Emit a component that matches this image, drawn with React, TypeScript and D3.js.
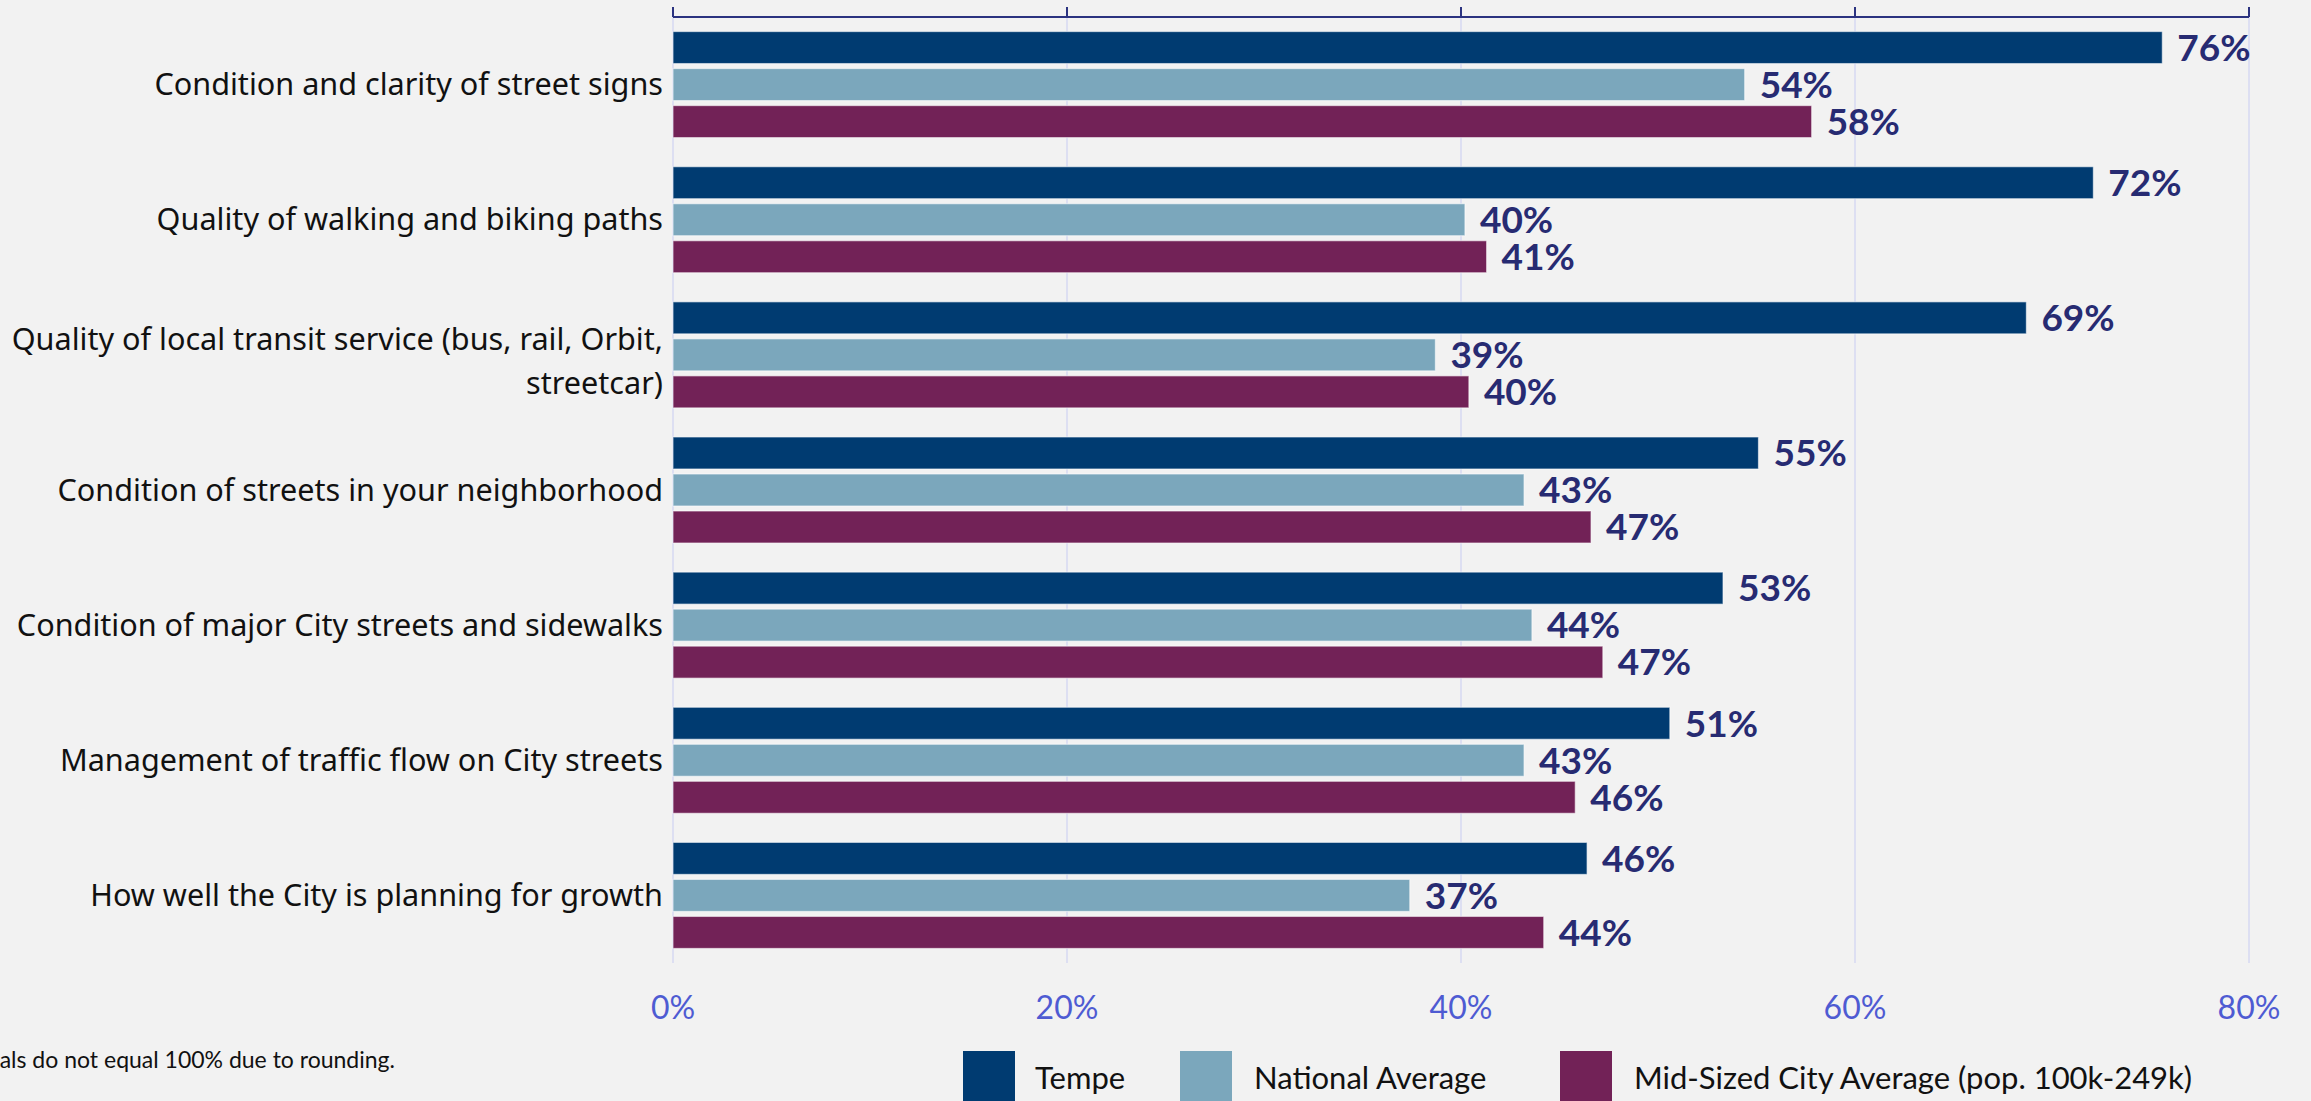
import React from "react";
import * as d3 from "d3";

const categories = [
  "Condition and clarity of street signs",
  "Quality of walking and biking paths",
  "Quality of local transit service (bus, rail, Orbit,|streetcar)",
  "Condition of streets in your neighborhood",
  "Condition of major City streets and sidewalks",
  "Management of traffic flow on City streets",
  "How well the City is planning for growth",
];
const seriesNames = ["Tempe", "National Average", "Mid-Sized City Average (pop. 100k-249k)"];
const tempe = [75.6, 72.1, 68.7, 55.1, 53.3, 50.6, 46.4];
const national = [54.4, 40.2, 38.7, 43.2, 43.6, 43.2, 37.4];
const midSized = [57.8, 41.3, 40.4, 46.6, 47.2, 45.8, 44.2];
const tickValues = [0, 20, 40, 60, 80];
const seriesColors = ["#003B71", "#7BA7BC", "#722257"];
const footnote = "Totals do not equal 100% due to rounding.";

const W = 2311;
const H = 1101;

export default function App() {
  const x = d3.scaleLinear().domain([0, 80]).range([673, 2249]);
  const y = d3.scaleBand<string>().domain(categories).range([17, 963]).paddingInner(0).paddingOuter(0);
  const ySub = d3
    .scaleBand<string>()
    .domain(seriesNames)
    .range([0, y.bandwidth()])
    .paddingInner(0.135)
    .paddingOuter(0.393);
  const data = [tempe, national, midSized];
  const font = "Lato, 'Noto Sans', sans-serif";
  const labelFont = "'Noto Sans', Lato, sans-serif";

  const legendItems = [
    { sx: 963, tx: 1035 },
    { sx: 1180, tx: 1254 },
    { sx: 1560, tx: 1634 },
  ];

  return (
    <svg width={W} height={H} style={{ position: "absolute", left: 0, top: 0 }} fontFamily={font}>
      <rect x={0} y={0} width={W} height={H} fill="#F2F2F2" />
      {/* gridlines */}
      {tickValues.map((t) => (
        <line key={"g" + t} x1={x(t)} x2={x(t)} y1={17} y2={963} stroke="#D6D9F2" strokeWidth={1.5} />
      ))}
      {/* bars */}
      {categories.map((c, i) => (
        <g key={c} transform={`translate(0,${y(c)})`}>
          {seriesNames.map((s, j) => {
            const v = data[j][i];
            const by = ySub(s)!;
            const bh = ySub.bandwidth();
            return (
              <g key={s}>
                <rect
                  x={x(0)}
                  y={by}
                  width={x(v) - x(0)}
                  height={bh}
                  fill={seriesColors[j]}
                  stroke="rgba(255,255,255,0.55)"
                  strokeWidth={1.2}
                />
                <text
                  x={x(v) + 15}
                  y={by + bh / 2}
                  dy="0.36em"
                  fontSize={37}
                  fontWeight={700}
                  fill="#272B72"
                >
                  {Math.round(v)}%
                </text>
              </g>
            );
          })}
          {(() => {
            const lines = c.split("|");
            const multi = lines.length > 1;
            const cy = y.bandwidth() / 2 + (multi ? 6 : 0);
            const lh = 44;
            return (
              <text textAnchor="end" fontSize={30.6} fill="#111" fontFamily={labelFont}>
                {lines.map((l, k) => (
                  <tspan key={k} x={663} y={cy + (k - (lines.length - 1) / 2) * lh} dy="0.35em">
                    {l}
                  </tspan>
                ))}
              </text>
            );
          })()}
        </g>
      ))}
      {/* top axis */}
      <line x1={x(0)} x2={x(80)} y1={17} y2={17} stroke="#2B3380" strokeWidth={2} />
      {tickValues.map((t) => (
        <line key={"t" + t} x1={x(t)} x2={x(t)} y1={7} y2={17} stroke="#2B3380" strokeWidth={2} />
      ))}
      {/* bottom tick labels */}
      {tickValues.map((t) => (
        <text key={"l" + t} x={x(t)} y={1008} dy="0.35em" textAnchor="middle" fontSize={32} fill="#4E5BD2">
          {t}%
        </text>
      ))}
      {/* footnote */}
      <text x={395} y={1060} dy="0.35em" textAnchor="end" fontSize={23} fill="#111">
        {footnote}
      </text>
      {/* legend */}
      {seriesNames.map((s, j) => (
        <g key={"lg" + s}>
          <rect x={legendItems[j].sx} y={1051} width={52} height={52} fill={seriesColors[j]} />
          <text x={legendItems[j].tx} y={1078} dy="0.35em" fontSize={31} fill="#111">
            {s}
          </text>
        </g>
      ))}
    </svg>
  );
}
